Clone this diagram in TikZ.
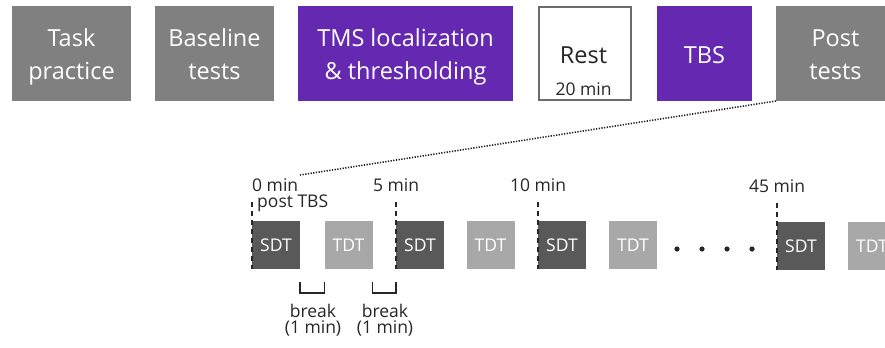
\documentclass[tikz,border=0pt]{standalone}
\usepackage{fontspec}
\setmainfont{Open Sans}
\definecolor{stagegray}{HTML}{808080}
\definecolor{stagepurple}{HTML}{6529B1}
\definecolor{restedge}{HTML}{6B6B6B}
\definecolor{sdtfill}{HTML}{595959}
\definecolor{tdtfill}{HTML}{A8A8A8}
\definecolor{inkdark}{HTML}{262626}
\tikzset{
  stage/.style={rectangle, inner sep=0pt, outer sep=0pt, minimum height=95bp},
  graystage/.style={stage, fill=stagegray},
  purplestage/.style={stage, fill=stagepurple},
  reststage/.style={stage, draw=restedge, line width=2bp, fill=white, minimum height=93bp},
  stagetext/.style={inner sep=0pt, anchor=base, text=white, font=\fontsize{23.5bp}{28bp}\selectfont},
  task/.style={rectangle, inner sep=0pt, outer sep=0pt, minimum width=48bp,
    minimum height=48bp, text=white, font=\fontsize{17.5bp}{20bp}\selectfont},
  sdt/.style={task, fill=sdtfill},
  tdt/.style={task, fill=tdtfill},
  small/.style={inner sep=0pt, text=inkdark, font=\fontsize{17.5bp}{20bp}\selectfont},
  tick/.style={draw=inkdark, line width=1.9bp, dash pattern=on 5bp off 4bp},
  bracket/.style={draw=inkdark, line width=1.5bp},
  zoomlink/.style={draw=inkdark, line width=1.6bp, dash pattern=on 1.3bp off 1.4bp}
}
\begin{document}
\begin{tikzpicture}[x=1bp, y=-1bp]
\useasboundingbox (0,0) rectangle (885,347);
\clip (0,0) rectangle (885,347);

% session stages
\node[graystage, minimum width=119bp] (practice) at (71.5,53.5) {};
\node[stagetext] (practiceA) at (practice.center |- 0,46) {Task};
\node[stagetext] (practiceB) at (practice.center |- 0,79) {practice};

\node[graystage, minimum width=119bp] (baseline) at (214.5,53.5) {};
\node[stagetext] (baselineA) at (baseline.center |- 0,46) {Baseline};
\node[stagetext] (baselineB) at (baseline.center |- 0,79) {tests};

\node[purplestage, minimum width=215bp] (tms) at (405.5,53.5) {};
\node[stagetext] (tmsA) at (tms.center |- 0,46) {TMS localization};
\node[stagetext] (tmsB) at (tms.center |- 0,79) {\& thresholding};

\node[reststage, minimum width=92bp] (rest) at (585,53.5) {};
\node[stagetext, text=inkdark] (restA) at (583.5,63) {Rest};
\node[small, anchor=base] (restB) at (583.5,95.5) {20 min};

\node[purplestage, minimum width=95bp] (tbs) at (704.5,53.5) {};
\node[stagetext] (tbsA) at (tbs.center |- 0,63) {TBS};

\node[graystage, minimum width=119bp] (post) at (835.5,53.5) {};
\node[stagetext] (postA) at (post.center |- 0,46) {Post};
\node[stagetext] (postB) at (post.center |- 0,79) {tests};

% post-test timeline
\node[sdt] (s1) at (276,245) {SDT};
\node[tdt] (t1) at (348.5,245) {TDT};
\node[sdt] (s2) at (420,245) {SDT};
\node[tdt] (t2) at (490.5,245) {TDT};
\node[sdt] (s3) at (562,245) {SDT};
\node[tdt] (t3) at (633,245) {TDT};
\node[sdt] (s4) at (801,246) {SDT};
\node[tdt] (t4) at (872,246) {TDT};

\foreach \x in {677,702,727,752} \fill[inkdark] (\x,249) circle (2.6bp);

% time markers
\foreach \s in {s1,s2,s3,s4}
  \draw[tick] ([yshift=19bp]\s.north west) -- (\s.south west);
\node[small, anchor=base west] (m0) at (252,191.5) {0 min};
\node[small, anchor=base west] (m0b) at (257,207.5) {post TBS};
\node[small, anchor=base] (m5) at (396,191.5) {5 min};
\node[small, anchor=base] (m10) at (538,191.5) {10 min};
\node[small, anchor=base] (m45) at (777,192) {45 min};

% breaks
\draw[bracket] ([yshift=-13bp]s1.south east) -- ++(0,11) -| ([yshift=-13bp]t1.south west);
\draw[bracket] ([yshift=-13bp]t1.south east) -- ++(0,11) -| ([yshift=-13bp]s2.south west);
\node[small, anchor=base] (b1) at (313,317) {break};
\node[small, anchor=base] (b1d) at (313,333) {(1 min)};
\node[small, anchor=base] (b2) at (385,317) {break};
\node[small, anchor=base] (b2d) at (385,333) {(1 min)};

% zoom from post tests to the timeline
\coordinate (zoomend) at (300,175);
\draw[zoomlink] (post.south west) -- (zoomend);
\end{tikzpicture}
\end{document}
